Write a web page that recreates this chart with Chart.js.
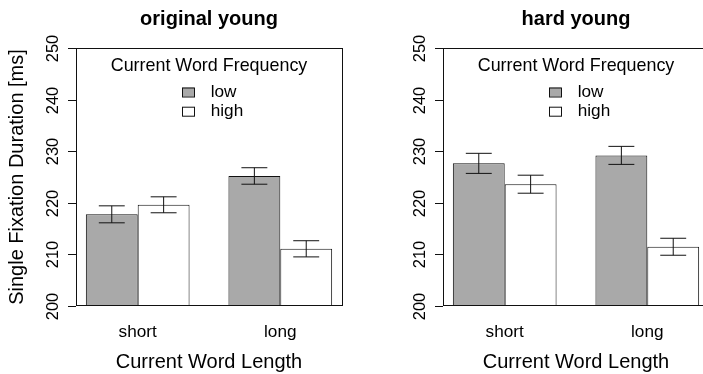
<!DOCTYPE html>
<html>
<head>
<meta charset="utf-8">
<script src="https://cdn.jsdelivr.net/npm/chart.js@4.4.1/dist/chart.umd.min.js"></script>
<style>
    html, body { margin: 0; padding: 0; background: #fff; overflow: hidden; width: 703px; height: 374px; }
    .panel { position: absolute; top: 0; width: 370px; height: 374px; }
    #panelOriginal { left: 0; }
    #panelHard { left: 367px; }
</style>
</head>
<body>
<div class="panel" id="panelOriginal"><canvas id="chartOriginal" width="370" height="374"></canvas></div>
<div class="panel" id="panelHard"><canvas id="chartHard" width="370" height="374"></canvas></div>
<script>
var lengthLabels = ["short", "long"];
var groupCenters = [1.75, 4.5];      // barplot midpoints of each pair of bars
var xLimits = [0.75, 5.5];           // outer edges of the bars
var yTicks = [200, 210, 220, 230, 240, 250];

var originalLow = [217.75, 225.2];
var originalHigh = [219.6, 211.05];
var originalLowSe = [1.65, 1.6];
var originalHighSe = [1.55, 1.57];

var hardLow = [227.65, 229.2];
var hardHigh = [223.6, 211.45];
var hardLowSe = [1.95, 1.75];
var hardHighSe = [1.75, 1.65];

var fontFamily = "'Liberation Sans', Arial, Helvetica, sans-serif";
var lineColor = "#111";

function toPoints(values) {
    return values.map(function (v, i) {
        return { x: groupCenters[i], y: v };
    });
}

// axis kept for layout and value mapping, but drawn by the plugin below
function silentAxis(extra) {
    var axis = {
        display: true,
        grid: { display: false, drawTicks: false, tickLength: 0 },
        border: { display: false },
        ticks: { display: false, padding: 0 }
    };
    for (var k in extra) axis[k] = extra[k];
    return axis;
}

// box, ticks, labels, legend and error bars in the style of base R graphics
var decorations = {
    id: 'decorations',
    afterDatasetsDraw: function (chart, args, opts) {
        var ctx = chart.ctx;
        var area = chart.chartArea;
        var xScale = chart.scales.x;
        var yScale = chart.scales.y;
        var midX = (area.left + area.right) / 2;

        ctx.save();
        ctx.strokeStyle = lineColor;
        ctx.lineWidth = 1;

        // error bars
        chart.data.datasets.forEach(function (ds, di) {
            var meta = chart.getDatasetMeta(di);
            meta.data.forEach(function (bar, i) {
                var v = ds.data[i].y;
                var se = ds.errors[i];
                var top = yScale.getPixelForValue(v + se);
                var bottom = yScale.getPixelForValue(v - se);
                var cap = bar.width / 4;
                ctx.beginPath();
                ctx.moveTo(bar.x, top);
                ctx.lineTo(bar.x, bottom);
                ctx.moveTo(bar.x - cap, top);
                ctx.lineTo(bar.x + cap, top);
                ctx.moveTo(bar.x - cap, bottom);
                ctx.lineTo(bar.x + cap, bottom);
                ctx.stroke();
            });
        });

        // plot box
        ctx.strokeRect(Math.round(area.left) + 0.5, Math.round(area.top) + 0.5,
            Math.round(area.right - area.left), Math.round(area.bottom - area.top));

        // y axis ticks and rotated labels
        ctx.fillStyle = "#000";
        ctx.font = "16.5px " + fontFamily;
        ctx.textAlign = "center";
        ctx.textBaseline = "alphabetic";
        yTicks.forEach(function (t) {
            var y = Math.round(yScale.getPixelForValue(t)) + 0.5;
            ctx.beginPath();
            ctx.moveTo(area.left - 8, y);
            ctx.lineTo(area.left, y);
            ctx.stroke();
            ctx.save();
            ctx.translate(area.left - 17.7, y);
            ctx.rotate(-Math.PI / 2);
            ctx.fillText(String(t), 0, 0);
            ctx.restore();
        });

        // category labels
        ctx.font = "17.2px " + fontFamily;
        groupCenters.forEach(function (c, i) {
            ctx.fillText(lengthLabels[i], xScale.getPixelForValue(c), 337);
        });

        // axis titles
        ctx.font = "20px " + fontFamily;
        ctx.fillText("Current Word Length", midX, 368.3);
        if (opts.yTitle) {
            ctx.save();
            ctx.translate(area.left - 53.3, (area.top + area.bottom) / 2);
            ctx.rotate(-Math.PI / 2);
            ctx.fillText(opts.yTitle, 0, 0);
            ctx.restore();
        }

        // panel title
        ctx.font = "bold 20px " + fontFamily;
        ctx.fillText(opts.title, midX, 25);

        // legend
        ctx.font = "17.9px " + fontFamily;
        ctx.fillText("Current Word Frequency", midX, 70.7);
        ctx.font = "17.2px " + fontFamily;
        ctx.textAlign = "left";
        var rows = [{ y: 87.5, base: 96.7 }, { y: 106.7, base: 116 }];
        chart.data.datasets.forEach(function (ds, di) {
            var r = rows[di];
            ctx.fillStyle = ds.backgroundColor;
            ctx.fillRect(midX - 27, r.y, 12, 9);
            ctx.strokeRect(midX - 27 + 0.5, r.y + 0.5, 12, 9);
            ctx.fillStyle = "#000";
            ctx.fillText(ds.label, midX + 1.7, r.base);
        });

        ctx.restore();
    }
};

function makePanel(canvasId, title, low, high, lowSe, highSe, yTitle) {
    var pad = 0.04 * (xLimits[1] - xLimits[0]);
    var ctx = document.querySelector("#" + canvasId).getContext("2d");
    return new Chart(ctx, {
        type: 'bar',
        data: {
            datasets: [
                {
                    label: "low",
                    data: toPoints(low),
                    errors: lowSe,
                    backgroundColor: "#a9a9a9",
                    borderColor: lineColor,
                    borderWidth: 1,
                    borderSkipped: false
                }, {
                    label: "high",
                    data: toPoints(high),
                    errors: highSe,
                    backgroundColor: "#ffffff",
                    borderColor: lineColor,
                    borderWidth: 1,
                    borderSkipped: false
                }
            ]
        },
        options: {
            responsive: false,
            animation: false,
            layout: {
                padding: { left: 76, right: 28, top: 48.3, bottom: 68.3 }
            },
            datasets: {
                bar: {
                    barPercentage: 1,
                    categoryPercentage: 2 / (groupCenters[1] - groupCenters[0])
                }
            },
            scales: {
                x: silentAxis({
                    type: 'linear',
                    offset: false,
                    min: xLimits[0] - pad,
                    max: xLimits[1] + pad,
                    afterBuildTicks: function (scale) {
                        scale.ticks = groupCenters.map(function (c) { return { value: c }; });
                    }
                }),
                y: silentAxis({
                    min: 200,
                    max: 250
                })
            },
            plugins: {
                legend: { display: false },
                tooltip: { enabled: false },
                decorations: { title: title, yTitle: yTitle }
            }
        },
        plugins: [decorations]
    });
}

var originalChart = makePanel("chartOriginal", "original young",
    originalLow, originalHigh, originalLowSe, originalHighSe, "Single Fixation Duration [ms]");
var hardChart = makePanel("chartHard", "hard young",
    hardLow, hardHigh, hardLowSe, hardHighSe, null);
</script>
</body>
</html>
